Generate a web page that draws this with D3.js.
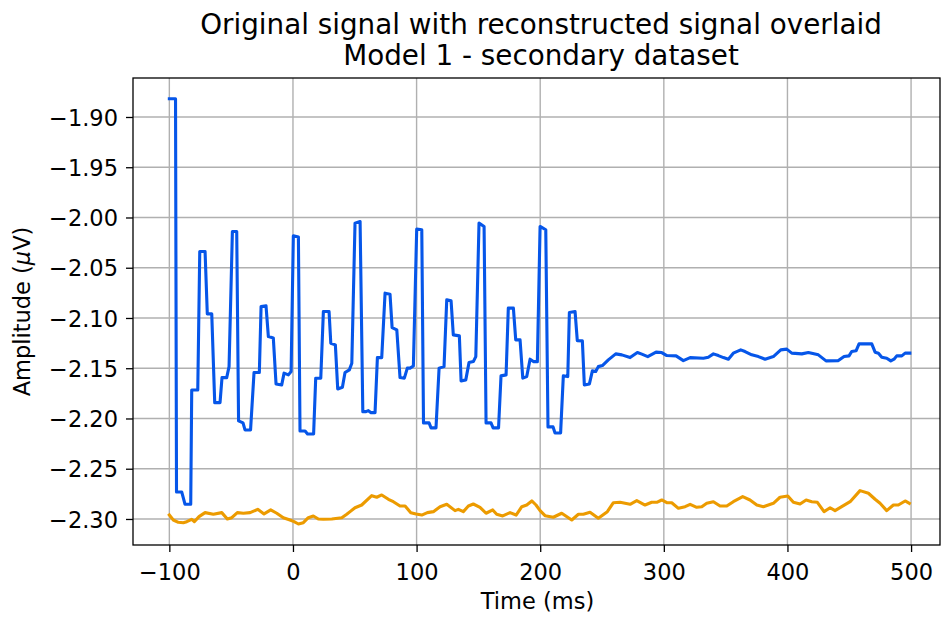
<!DOCTYPE html>
<html>
<head>
<meta charset="utf-8">
<script src="https://cdn.jsdelivr.net/npm/d3@7"></script>
<style>
  html, body { margin: 0; padding: 0; background: #ffffff; }
  svg { display: block; }
  text { font-family: "DejaVu Sans", sans-serif; fill: #000; }
</style>
</head>
<body>
<svg id="chart" width="941" height="618"></svg>
<script>
// ---- data (time in ms, amplitude in µV) ----
const titleLines = ["Original signal with reconstructed signal overlaid", "Model 1 - secondary dataset"];
const xLabel = "Time (ms)";
const xTicks = [-100, 0, 100, 200, 300, 400, 500];
const yTicks = [-1.90, -1.95, -2.00, -2.05, -2.10, -2.15, -2.20, -2.25, -2.30];

const originalTime = [-100, -95.0, -94.2, -90.0, -87.3, -82.7, -81.9, -77.0, -75.4, -71.1, -69.3, -65.7, -63.3, -59.0, -57.4, -53.6, -51.7, -49.0, -45.5, -44.0, -40.4, -38.8, -34.3, -31.5, -27.2, -25.8, -21.8, -19.9, -15.9, -13.7, -9.1, -7.2, -3.7, -1.5, 0.3, 4.4, 5.7, 9.8, 11.8, 16.7, 18.4, 22.5, 24.6, 29.2, 30.6, 34.3, 36.2, 40.0, 42.1, 45.6, 47.6, 50.2, 54.3, 56.5, 59.1, 61.0, 63.2, 66.4, 68.3, 71.8, 74.5, 78.5, 80.2, 84.0, 86.6, 90.1, 92.5, 94.7, 97.4, 100.1, 104.2, 105.6, 110.1, 111.7, 115.7, 118.2, 122.2, 124.4, 127.9, 129.7, 134.6, 136.0, 139.8, 142.4, 145.9, 147.9, 150.5, 154.6, 156.2, 160.2, 161.9, 166.3, 168.3, 172.4, 174.2, 178.3, 180.2, 183.7, 185.9, 189.1, 191.8, 194.5, 197.7, 199.9, 204.5, 206.3, 210.4, 212.0, 216.5, 218.7, 222.3, 223.6, 228.2, 230.0, 234.1, 235.7, 239.8, 242.2, 244.9, 247.0, 250.3, 255.1, 261.1, 266.0, 272.7, 278.6, 282.2, 287.0, 293.7, 298.3, 302.4, 309.9, 315.8, 321.3, 332.0, 336.0, 340.1, 344.1, 348.2, 352.2, 356.2, 362.2, 365.7, 371.1, 376.5, 381.9, 388.6, 394.6, 399.4, 403.5, 411.6, 416.9, 425.0, 431.2, 441.2, 445.8, 449.8, 452.0, 455.5, 457.9, 468.2, 470.9, 473.6, 476.3, 480.3, 483.6, 486.2, 488.4, 492.5, 495.2, 499.0];
const originalValue = [-1.8818, -1.8818, -2.2731, -2.2731, -2.2854, -2.2854, -2.1716, -2.1716, -2.0339, -2.0339, -2.0959, -2.0959, -2.1842, -2.1842, -2.1593, -2.1593, -2.1484, -2.0139, -2.0139, -2.2024, -2.2044, -2.2114, -2.2114, -2.1543, -2.1543, -2.0886, -2.0879, -2.1185, -2.1198, -2.1656, -2.1666, -2.1549, -2.1566, -2.1533, -2.0182, -2.0195, -2.2124, -2.2124, -2.2154, -2.2154, -2.1599, -2.1599, -2.0936, -2.0936, -2.1251, -2.1268, -2.1706, -2.1689, -2.1543, -2.1516, -2.1450, -2.0056, -2.0040, -2.1932, -2.1932, -2.1922, -2.1942, -2.1942, -2.1394, -2.1394, -2.0753, -2.0763, -2.1095, -2.1118, -2.1593, -2.1599, -2.1499, -2.1499, -2.1477, -2.0115, -2.0122, -2.2044, -2.2044, -2.2094, -2.2094, -2.1499, -2.1484, -2.0819, -2.0829, -2.1168, -2.1178, -2.1626, -2.1616, -2.1444, -2.1434, -2.1384, -2.0056, -2.0089, -2.2044, -2.2044, -2.2094, -2.2094, -2.1576, -2.1566, -2.0902, -2.0902, -2.1218, -2.1218, -2.1599, -2.1583, -2.1410, -2.1434, -2.1434, -2.0089, -2.0122, -2.2084, -2.2084, -2.2144, -2.2144, -2.1576, -2.1583, -2.0946, -2.0936, -2.1225, -2.1228, -2.1666, -2.1656, -2.1526, -2.1533, -2.1484, -2.1474, -2.1417, -2.1357, -2.1367, -2.1394, -2.1344, -2.1360, -2.1384, -2.1340, -2.1344, -2.1374, -2.1377, -2.1424, -2.1394, -2.1400, -2.1390, -2.1357, -2.1374, -2.1394, -2.1410, -2.1350, -2.1317, -2.1334, -2.1367, -2.1384, -2.1410, -2.1384, -2.1317, -2.1310, -2.1350, -2.1357, -2.1344, -2.1367, -2.1427, -2.1424, -2.1384, -2.1377, -2.1334, -2.1327, -2.1258, -2.1258, -2.1340, -2.1350, -2.1390, -2.1400, -2.1427, -2.1410, -2.1377, -2.1377, -2.1350, -2.1350];

const reconTime = [-100, -96.8, -92.7, -88.7, -85.9, -81.9, -79.8, -76.0, -71.1, -64.4, -57.6, -53.1, -49.5, -45.0, -40.1, -34.7, -28.5, -23.4, -18.0, -13.1, -7.8, -2.4, 0.9, 4.4, 8.4, 12.4, 16.5, 20.5, 24.6, 31.4, 39.5, 43.5, 46.2, 50.2, 55.6, 63.7, 67.8, 71.8, 77.2, 81.2, 86.6, 90.7, 95.3, 99.6, 104.2, 108.7, 113.6, 119.0, 124.4, 131.1, 133.8, 137.8, 141.9, 145.9, 151.3, 156.2, 161.6, 164.8, 169.7, 175.6, 180.5, 185.1, 189.1, 193.2, 196.6, 199.9, 203.9, 210.6, 217.4, 225.5, 230.9, 234.9, 240.3, 247.0, 254.3, 259.2, 264.6, 272.7, 278.1, 284.8, 290.2, 294.3, 298.3, 302.4, 306.4, 311.8, 317.2, 321.3, 326.6, 330.7, 334.7, 340.1, 345.5, 350.9, 356.2, 363.8, 369.7, 375.2, 380.5, 388.6, 394.0, 400.3, 404.8, 410.2, 415.1, 419.7, 424.2, 429.6, 434.5, 438.5, 443.9, 450.7, 458.7, 465.5, 470.9, 474.9, 480.3, 485.7, 489.7, 495.2, 498.6];
const reconValue = [-2.2961, -2.3010, -2.3033, -2.3037, -2.3027, -2.3003, -2.3027, -2.2977, -2.2937, -2.2953, -2.2937, -2.3000, -2.2987, -2.2937, -2.2943, -2.2937, -2.2904, -2.2950, -2.2910, -2.2943, -2.2987, -2.3010, -2.3027, -2.3050, -2.3037, -2.2987, -2.2970, -2.3000, -2.3003, -2.3000, -2.2987, -2.2953, -2.2927, -2.2888, -2.2861, -2.2768, -2.2784, -2.2761, -2.2804, -2.2828, -2.2871, -2.2871, -2.2937, -2.2950, -2.2961, -2.2937, -2.2927, -2.2878, -2.2854, -2.2917, -2.2904, -2.2927, -2.2871, -2.2851, -2.2884, -2.2943, -2.2910, -2.2953, -2.2970, -2.2937, -2.2961, -2.2878, -2.2861, -2.2821, -2.2861, -2.2917, -2.2967, -2.2983, -2.2943, -2.3010, -2.2953, -2.2953, -2.2934, -2.2993, -2.2927, -2.2838, -2.2834, -2.2854, -2.2818, -2.2861, -2.2834, -2.2834, -2.2811, -2.2838, -2.2838, -2.2894, -2.2878, -2.2854, -2.2884, -2.2878, -2.2844, -2.2828, -2.2871, -2.2871, -2.2828, -2.2778, -2.2811, -2.2861, -2.2878, -2.2844, -2.2784, -2.2771, -2.2834, -2.2851, -2.2811, -2.2828, -2.2834, -2.2927, -2.2888, -2.2917, -2.2878, -2.2828, -2.2718, -2.2744, -2.2804, -2.2844, -2.2917, -2.2861, -2.2861, -2.2821, -2.2844];

// ---- layout ----
const svg = d3.select("#chart");
const L = 133, R = 940, T = 78, B = 545;
const x = d3.scaleLinear().domain([-129.4, 523.4]).range([L, R]);
const y = d3.scaleLinear().domain([-2.3259, -1.8612]).range([B, T]);
const tickFont = 22.5, titleFont = 27.8;

// grid
const grid = svg.append("g");
grid.selectAll(".gx").data(xTicks).join("line")
  .attr("x1", d => x(d)).attr("x2", d => x(d)).attr("y1", T).attr("y2", B)
  .attr("stroke", "#b0b0b0").attr("stroke-width", 1.4);
grid.selectAll(".gy").data(yTicks).join("line")
  .attr("x1", L).attr("x2", R).attr("y1", d => y(d)).attr("y2", d => y(d))
  .attr("stroke", "#b0b0b0").attr("stroke-width", 1.4);

// lines
svg.append("clipPath").attr("id", "clip").append("rect")
  .attr("x", L).attr("y", T).attr("width", R - L).attr("height", B - T);
const line = d3.line().x(d => x(d[0])).y(d => y(d[1]));
const orig = originalTime.map((t, i) => [t, originalValue[i]]);
const recon = reconTime.map((t, i) => [t, reconValue[i]]);
const plot = svg.append("g").attr("clip-path", "url(#clip)");
plot.append("path").datum(orig).attr("d", line)
  .attr("fill", "none").attr("stroke", "#0656e9").attr("stroke-width", 3.1)
  .attr("stroke-linejoin", "round").attr("stroke-linecap", "square");
plot.append("path").datum(recon).attr("d", line)
  .attr("fill", "none").attr("stroke", "#ec9b00").attr("stroke-width", 3.1)
  .attr("stroke-linejoin", "round").attr("stroke-linecap", "square");

// axes
const xAxis = svg.append("g").attr("transform", `translate(0,${B})`)
  .call(d3.axisBottom(x).tickValues(xTicks).tickSize(7).tickPadding(12).tickFormat(d3.format("d")));
const yAxis = svg.append("g").attr("transform", `translate(${L},0)`)
  .call(d3.axisLeft(y).tickValues(yTicks).tickSize(7).tickPadding(8).tickFormat(d3.format(".2f")));
[xAxis, yAxis].forEach(a => {
  a.select(".domain").remove();
  a.selectAll(".tick line").attr("stroke", "#000").attr("stroke-width", 1.3);
  a.selectAll(".tick text").attr("font-family", "DejaVu Sans").attr("font-size", tickFont).attr("fill", "#000");
});
xAxis.selectAll(".tick text").attr("dy", "0.72em");
yAxis.selectAll(".tick text").attr("dy", "0.36em");

// frame
svg.append("rect").attr("x", L).attr("y", T).attr("width", R - L).attr("height", B - T)
  .attr("fill", "none").attr("stroke", "#000").attr("stroke-width", 1.3);

// labels
svg.append("text").attr("x", (L + R) / 2 + 1).attr("y", 609).attr("text-anchor", "middle")
  .attr("font-size", tickFont).text(xLabel);
const yl = svg.append("text").attr("transform", `translate(30,${(T + B) / 2}) rotate(-90)`)
  .attr("text-anchor", "middle").attr("font-size", tickFont);
yl.append("tspan").text("Amplitude (");
yl.append("tspan").attr("font-style", "italic").text("\u03bc");
yl.append("tspan").text("V)");

svg.selectAll(".title").data(titleLines).join("text")
  .attr("x", 541).attr("y", (d, i) => 34 + i * 31).attr("text-anchor", "middle")
  .attr("font-size", titleFont).text(d => d);
</script>
</body>
</html>
